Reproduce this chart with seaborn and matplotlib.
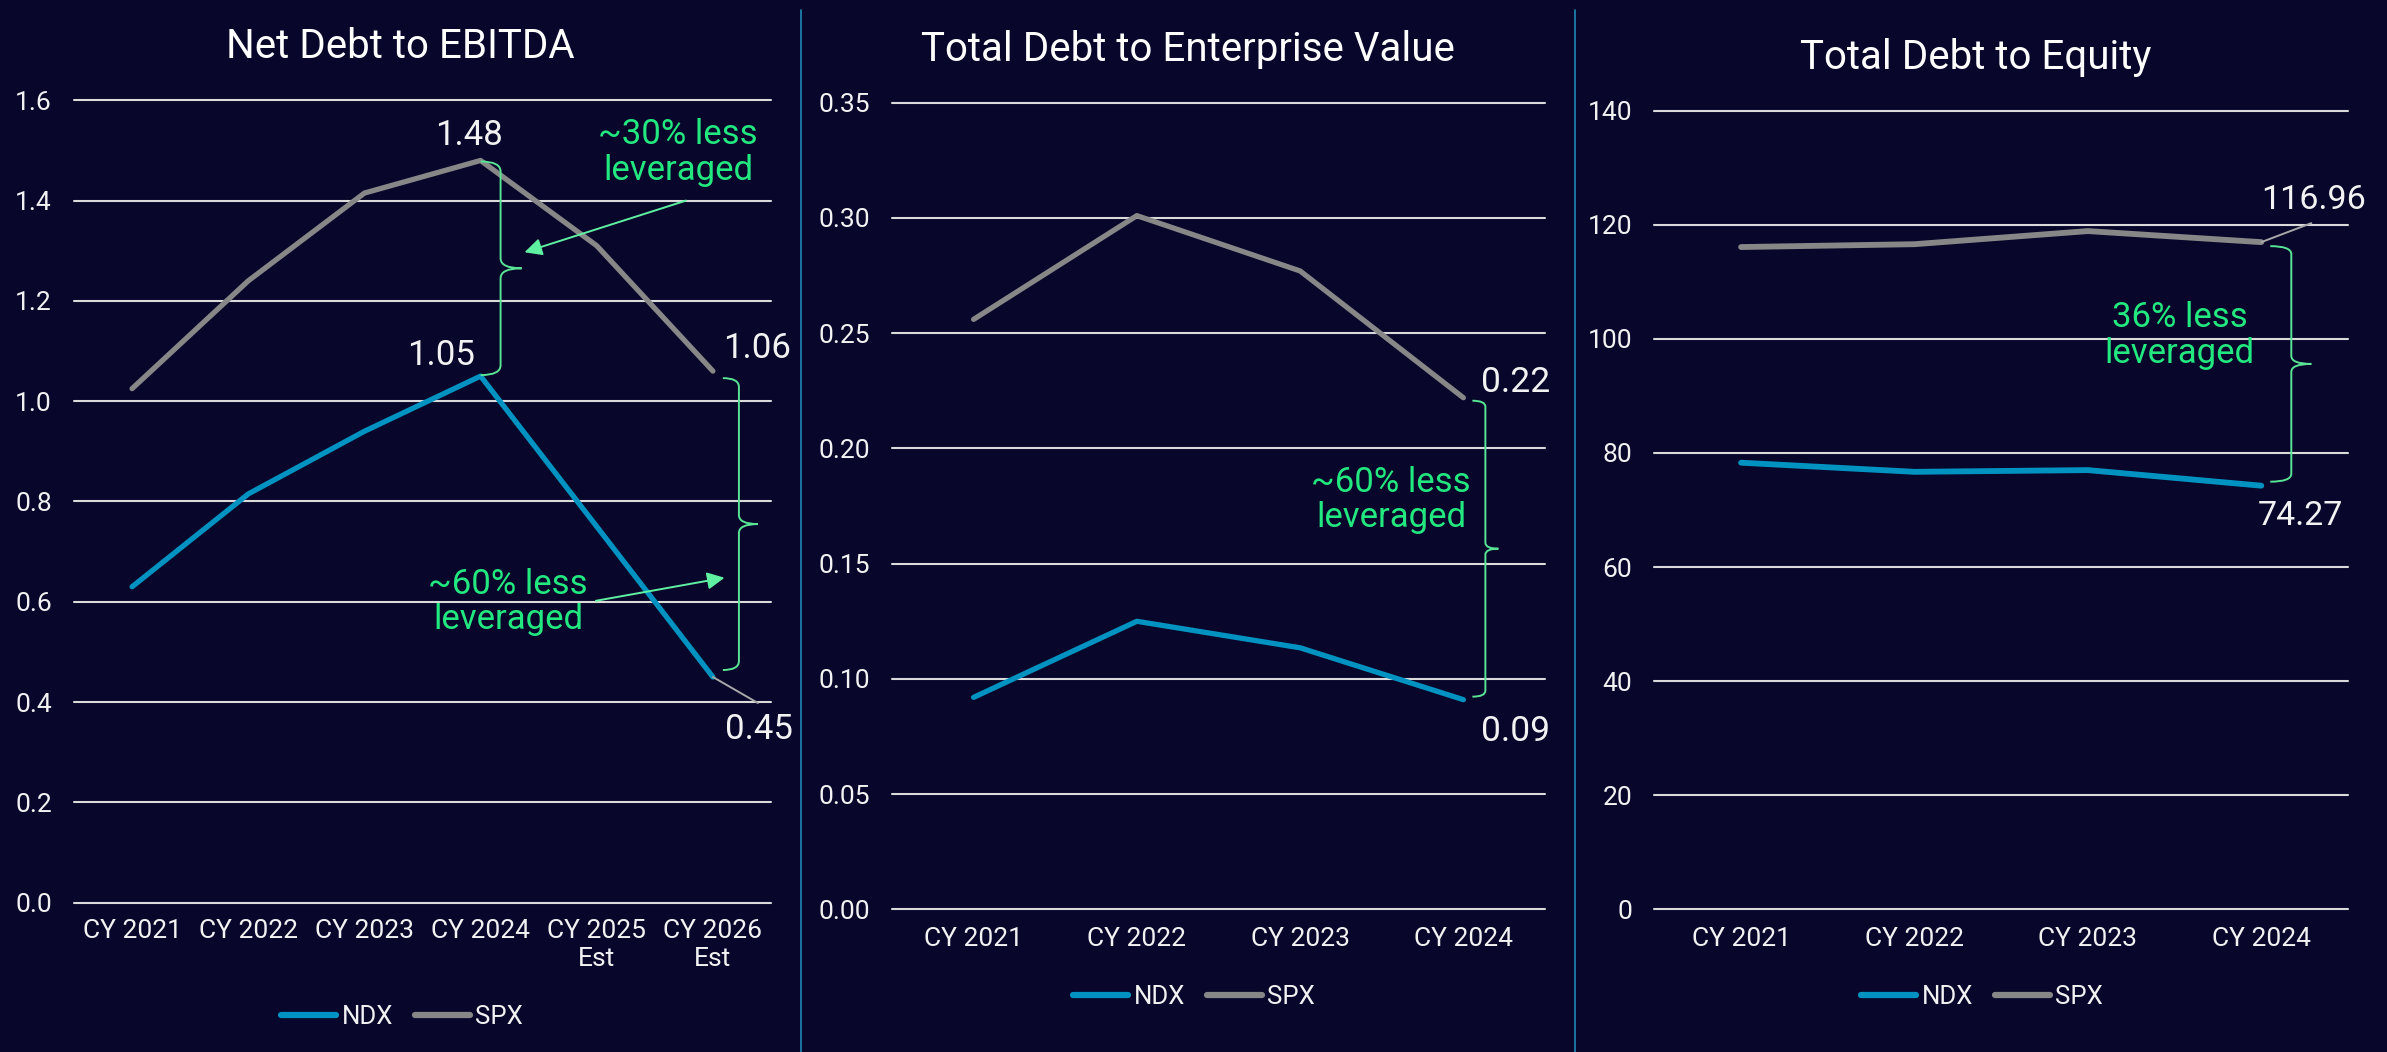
import matplotlib
matplotlib.use("Agg")
import matplotlib.pyplot as plt
from matplotlib.path import Path
from matplotlib.patches import PathPatch
from matplotlib.transforms import IdentityTransform
from matplotlib.lines import Line2D
import seaborn as sns
import pandas as pd

# ---------------- data ----------------
ebitda_periods = ["CY 2021", "CY 2022", "CY 2023", "CY 2024", "CY 2025\nEst", "CY 2026\nEst"]
ebitda_ndx = [0.63, 0.815, 0.94, 1.05, 0.75, 0.45]
ebitda_spx = [1.025, 1.24, 1.415, 1.48, 1.31, 1.06]

ev_periods = ["CY 2021", "CY 2022", "CY 2023", "CY 2024"]
ev_ndx = [0.092, 0.125, 0.1135, 0.091]
ev_spx = [0.256, 0.301, 0.277, 0.222]

eq_periods = ["CY 2021", "CY 2022", "CY 2023", "CY 2024"]
eq_ndx = [78.3, 76.7, 77.0, 74.27]
eq_spx = [116.1, 116.6, 118.9, 116.96]

series_names = ["NDX", "SPX"]
titles = ["Net Debt to EBITDA", "Total Debt to Enterprise Value", "Total Debt to Equity"]
ebitda_yticks = [0.0, 0.2, 0.4, 0.6, 0.8, 1.0, 1.2, 1.4, 1.6]
ev_yticks = [0.00, 0.05, 0.10, 0.15, 0.20, 0.25, 0.30, 0.35]
eq_yticks = [0, 20, 40, 60, 80, 100, 120, 140]

# ---------------- style ----------------
BG = "#08062a"
NDX_C = "#0093c2"
SPX_C = "#878787"
GRID_C = "#dadada"
TXT_C = "#f2f2f2"
GREEN = "#22e87f"
BRACE_C = "#58e395"
ARROW_C = "#5ff0a2"
FONT = ["Roboto", "DejaVu Sans"]

sns.set_theme(style="dark", rc={"axes.facecolor": BG, "figure.facecolor": BG})
plt.rcParams["font.family"] = FONT
plt.rcParams["font.weight"] = "normal"

W, H = 2387, 1052
fig = plt.figure(figsize=(W / 100, H / 100), dpi=100, facecolor=BG)


def px_axes(x0, y0, x1, y1):
    return fig.add_axes([x0 / W, 1 - y1 / H, (x1 - x0) / W, (y1 - y0) / H])


def make_df(periods, ndx, spx):
    return pd.DataFrame({
        "period": periods * 2,
        "value": list(ndx) + list(spx),
        "index": [series_names[0]] * len(periods) + [series_names[1]] * len(periods),
    })


def brace(ax, x, y_top, y_bot, start, line, tip, r, gap=0.0):
    xa, yt = ax.transData.transform((x, y_top))
    _, yb = ax.transData.transform((x, y_bot))
    yt -= gap
    yb += gap
    x0, xl, xt = xa + start, xa + line, xa + tip
    ym = (yt + yb) / 2
    verts = [(x0, yt), (xl, yt), (xl, yt - r), (xl, ym + r), (xl, ym), (xt, ym),
             (xl, ym), (xl, ym - r), (xl, yb + r), (xl, yb), (x0, yb)]
    C, L, M = Path.CURVE3, Path.LINETO, Path.MOVETO
    codes = [M, C, C, L, C, C, C, C, L, C, C]
    p = PathPatch(Path(verts, codes), transform=IdentityTransform(), fill=False,
                  edgecolor=BRACE_C, lw=1.4)
    fig.add_artist(p)


def setup(ax, df, yticks, fmt, lw, box_ylim, xpad, legend_center):
    sns.lineplot(data=df, x="period", y="value", hue="index", sort=False,
                 palette={"NDX": NDX_C, "SPX": SPX_C}, linewidth=lw, ax=ax,
                 solid_capstyle="round", legend=True)
    ax.set_facecolor(BG)
    ax.set_xlim(-0.5, len(df["period"].unique()) - 0.5)
    ax.set_ylim(*box_ylim)
    ax.set_yticks(yticks)
    ax.set_yticklabels([fmt.format(v) for v in yticks])
    ax.set_xlabel("")
    ax.set_ylabel("")
    for s in ax.spines.values():
        s.set_visible(False)
    ax.yaxis.grid(True, color=GRID_C, lw=1.5)
    ax.xaxis.grid(False)
    for gl in ax.get_ygridlines():
        gl.set_clip_on(False)
    ax.tick_params(axis="y", length=0, pad=16.0, labelsize=19, labelcolor=TXT_C)
    ax.tick_params(axis="x", length=0, pad=xpad, labelsize=19, labelcolor=TXT_C)
    h, l = ax.get_legend_handles_labels()
    leg = ax.legend(h, l, loc="center", ncol=2, frameon=False,
                    bbox_to_anchor=(legend_center[0] / W, 1 - legend_center[1] / H),
                    bbox_transform=fig.transFigure, fontsize=18.5,
                    handlelength=2.15, handletextpad=0.2, columnspacing=0.85)
    for ln in leg.get_lines():
        ln.set_linewidth(4.5)
        ln.set_solid_capstyle("round")
    for t in leg.get_texts():
        t.set_color(TXT_C)


def value_label(ax, text, xy, dx, dy, size, leader=False):
    if leader:
        ax.annotate("", xy=xy, xytext=leader, textcoords="offset pixels",
                    arrowprops=dict(arrowstyle="-", color="#a8a8a8", lw=1.4,
                                    shrinkA=0, shrinkB=0))
    ax.annotate(text, xy=xy, xytext=(dx, dy), textcoords="offset pixels",
                ha="center", va="center", fontsize=size, color=TXT_C,
                annotation_clip=False)


def green_text(ax, text, xy):
    ax.text(xy[0], xy[1], text, ha="center", va="center", fontsize=25,
            color=GREEN, linespacing=1.1, clip_on=False)


def arrow(ax, tail, head):
    ax.annotate("", xy=head, xytext=tail,
                arrowprops=dict(arrowstyle="-|>", color=ARROW_C, lw=1.4,
                                mutation_scale=26, shrinkA=0, shrinkB=0),
                annotation_clip=False)


# ---------------- panel 1 ----------------
ax1 = px_axes(74, 100.3, 771, 902.7)
setup(ax1, make_df(ebitda_periods, ebitda_ndx, ebitda_spx), ebitda_yticks, "{:.1f}",
      3.8, (0, 1.6), 12.0, (402, 1017))
value_label(ax1, f"{ebitda_spx[3]:.2f}", (3, ebitda_spx[3]), -12, 25, 25)
value_label(ax1, f"{ebitda_ndx[3]:.2f}", (3, ebitda_ndx[3]), -40, 21, 25)
value_label(ax1, f"{ebitda_spx[5]:.2f}", (5, ebitda_spx[5]), 44, 23, 25)
value_label(ax1, f"{ebitda_ndx[5]:.2f}", (5, ebitda_ndx[5]), 46, -52, 25, leader=(45, -26))
brace(ax1, 3, ebitda_spx[3], ebitda_ndx[3], 0, 20, 41, 10, gap=1)
brace(ax1, 5, ebitda_spx[5], ebitda_ndx[5], 10, 26, 45, 9, gap=7)
green_text(ax1, "~30% less\nleveraged", (4.70, 1.496))
arrow(ax1, (4.768, 1.40), (3.378, 1.297))
green_text(ax1, "~60% less\nleveraged", (3.236, 0.600))
arrow(ax1, (3.993, 0.602), (5.10, 0.648))

# ---------------- panel 2 ----------------
ax2 = px_axes(892, 102.7, 1545, 909.4)
setup(ax2, make_df(ev_periods, ev_ndx, ev_spx), ev_yticks, "{:.2f}",
      3.8, (0, 0.35), 13.0, (1194, 997))
value_label(ax2, f"{ev_spx[3]:.2f}", (3, ev_spx[3]), 52, 15, 25.5)
value_label(ax2, f"{ev_ndx[3]:.2f}", (3, ev_ndx[3]), 52, -32, 25.5)
brace(ax2, 3, ev_spx[3], ev_ndx[3], 9, 22, 35, 6, gap=3)
green_text(ax2, "~60% less\nleveraged", (2.557, 0.1776))

# ---------------- panel 3 ----------------
ax3 = px_axes(1654.4, 110.7, 2348, 909.4)
setup(ax3, make_df(eq_periods, eq_ndx, eq_spx), eq_yticks, "{:.0f}",
      4.2, (0, 140), 13.0, (1982, 997))
value_label(ax3, f"{eq_spx[3]:.2f}", (3, eq_spx[3]), 52, 42, 24.5, leader=(50, 19))
value_label(ax3, f"{eq_ndx[3]:.2f}", (3, eq_ndx[3]), 39, -30, 24.5)
brace(ax3, 3, eq_spx[3], eq_ndx[3], 9, 30, 50, 8, gap=4)
green_text(ax3, "36% less\nleveraged", (2.529, 100.6))

# ---------------- titles & separators ----------------
for t, cx, by in zip(titles, [400.5, 1188, 1976], [57.5, 60.7, 69]):
    fig.text(cx / W, 1 - by / H, t, ha="center", va="baseline", fontsize=29,
             color="white", fontweight="normal")
for sx in [801, 1575]:
    fig.add_artist(Line2D([sx / W, sx / W], [0, 1 - 10 / H], transform=fig.transFigure,
                          color="#1f86b6", lw=1.2))

fig.savefig("out.png", dpi=100, facecolor=BG)
